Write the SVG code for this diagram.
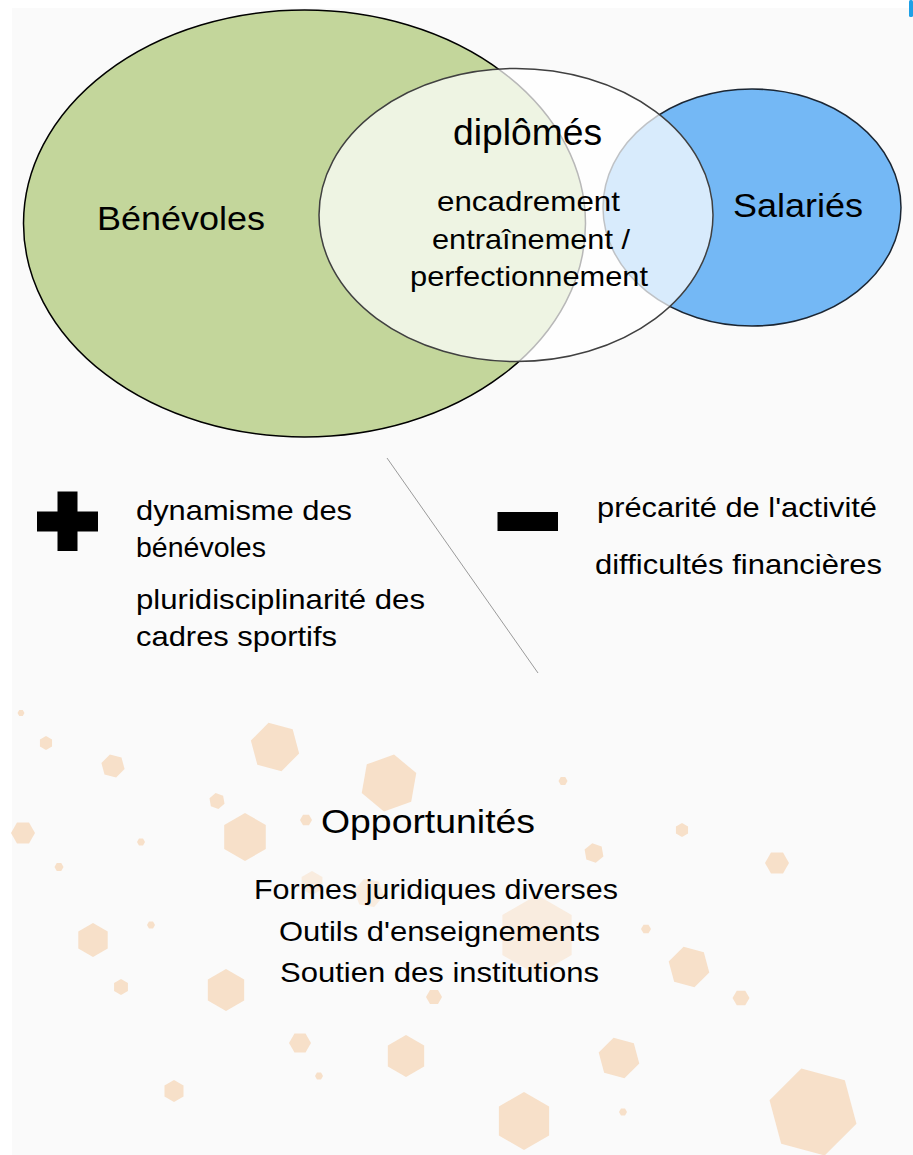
<svg xmlns="http://www.w3.org/2000/svg" xmlns:xlink="http://www.w3.org/1999/xlink" width="913" height="1155" viewBox="0 0 913 1155">
<style>
text{font-family:"Liberation Sans",Arial,sans-serif;fill:#000}
.hx{fill:#f7e0c9}
.hf{fill:#f7e0c9;opacity:.55}
</style>
<defs>
<polygon id="hex" points="1,0 0.5,0.866 -0.5,0.866 -1,0 -0.5,-0.866 0.5,-0.866"/>
</defs>
<rect width="913" height="1155" fill="#ffffff"/>
<rect x="12" y="8" width="901" height="1147" fill="#fafafa"/>
<rect x="909" y="0" width="4" height="17" rx="1.5" fill="#1ea0e6"/>

<g id="hexagons">
<use href="#hex" class="hx" transform="translate(21,713) scale(3.5)"/>
<use href="#hex" class="hx" transform="translate(46,743) scale(7) rotate(90)"/>
<use href="#hex" class="hx" transform="translate(113,766) scale(12) rotate(15)"/>
<use href="#hex" class="hx" transform="translate(275,747) scale(25) rotate(75)"/>
<use href="#hex" class="hx" transform="translate(389,783) scale(29) rotate(100)"/>
<use href="#hex" class="hx" transform="translate(563,781) scale(4.5)"/>
<use href="#hex" class="hx" transform="translate(217,801) scale(8) rotate(20)"/>
<use href="#hex" class="hx" transform="translate(245,837) scale(24) rotate(90)"/>
<use href="#hex" class="hx" transform="translate(23,833) scale(12)"/>
<use href="#hex" class="hx" transform="translate(141,842) scale(4)"/>
<use href="#hex" class="hx" transform="translate(59,867) scale(4.5)"/>
<use href="#hex" class="hx" transform="translate(306,820) scale(6)"/>
<use href="#hex" class="hx" transform="translate(682,830) scale(7) rotate(30)"/>
<use href="#hex" class="hx" transform="translate(594,853) scale(10) rotate(20)"/>
<use href="#hex" class="hx" transform="translate(777,863) scale(12)"/>
<use href="#hex" class="hf" transform="translate(312,883) scale(12) rotate(30)"/>
<use href="#hex" class="hf" transform="translate(369,893) scale(15) rotate(10)"/>
<use href="#hex" class="hf" transform="translate(537,935) scale(40) rotate(90)"/>
<use href="#hex" class="hx" transform="translate(93,940) scale(17) rotate(90)"/>
<use href="#hex" class="hx" transform="translate(151,925) scale(4)"/>
<use href="#hex" class="hx" transform="translate(646,929) scale(5)"/>
<use href="#hex" class="hx" transform="translate(226,990) scale(21) rotate(90)"/>
<use href="#hex" class="hx" transform="translate(121,987) scale(8) rotate(90)"/>
<use href="#hex" class="hx" transform="translate(434,997) scale(8)"/>
<use href="#hex" class="hx" transform="translate(689,967) scale(21) rotate(75)"/>
<use href="#hex" class="hx" transform="translate(741,998) scale(8.5)"/>
<use href="#hex" class="hx" transform="translate(300,1043) scale(11)"/>
<use href="#hex" class="hx" transform="translate(406,1056) scale(21) rotate(90)"/>
<use href="#hex" class="hx" transform="translate(619,1058) scale(21) rotate(15)"/>
<use href="#hex" class="hx" transform="translate(319,1076) scale(4)"/>
<use href="#hex" class="hx" transform="translate(174,1091) scale(11) rotate(90)"/>
<use href="#hex" class="hx" transform="translate(524,1121) scale(29) rotate(90)"/>
<use href="#hex" class="hx" transform="translate(623,1112) scale(4)"/>
<use href="#hex" class="hx" transform="translate(813,1112) scale(45) rotate(75)"/>
</g>

<g id="connectors">
<line x1="387" y1="458" x2="538" y2="673" stroke="#9a9a9a" stroke-width="1"/>
</g>

<g id="benevoles">
<ellipse cx="304.5" cy="223.5" rx="281" ry="213.5" fill="#c3d69b" stroke="#000" stroke-width="1.5"/>
</g>
<g id="salaries">
<ellipse cx="752" cy="207.5" rx="149" ry="118.5" fill="#74b8f5" stroke="#1b2633" stroke-width="1.5"/>
</g>
<g id="diplomes">
<ellipse cx="516" cy="215" rx="197" ry="146.5" fill="#ffffff" fill-opacity="0.72" stroke="#404040" stroke-width="1.5"/>
</g>

<g id="labels-venn">
<text x="97" y="230" font-size="33" textLength="168" lengthAdjust="spacingAndGlyphs">Bénévoles</text>
<text x="733" y="217" font-size="33" textLength="130" lengthAdjust="spacingAndGlyphs">Salariés</text>
<text x="453" y="145" font-size="36" textLength="149" lengthAdjust="spacingAndGlyphs">diplômés</text>
<text x="437" y="211" font-size="28.5" textLength="183" lengthAdjust="spacingAndGlyphs">encadrement</text>
<text x="432" y="249" font-size="28.5" textLength="198" lengthAdjust="spacingAndGlyphs">entraînement /</text>
<text x="410" y="286" font-size="28.5" textLength="238" lengthAdjust="spacingAndGlyphs">perfectionnement</text>
</g>

<g id="plus">
<rect x="37" y="511.5" width="61" height="20"/>
<rect x="57.5" y="491.5" width="20" height="59.5"/>
<text x="136" y="520" font-size="28.5" textLength="216" lengthAdjust="spacingAndGlyphs">dynamisme des</text>
<text x="136" y="557" font-size="28.5">bénévoles</text>
<text x="136" y="609" font-size="28.5" textLength="289" lengthAdjust="spacingAndGlyphs">pluridisciplinarité des</text>
<text x="136" y="646" font-size="28.5" textLength="201" lengthAdjust="spacingAndGlyphs">cadres sportifs</text>
</g>

<g id="minus">
<rect x="497.5" y="512" width="60.5" height="19"/>
<text x="597" y="517" font-size="28.5" textLength="280" lengthAdjust="spacingAndGlyphs">précarité de l'activité</text>
<text x="595" y="574" font-size="28.5" textLength="287" lengthAdjust="spacingAndGlyphs">difficultés financières</text>
</g>

<g id="opportunites">
<text x="321" y="833" font-size="32.5" textLength="214" lengthAdjust="spacingAndGlyphs">Opportunités</text>
<text x="254" y="899" font-size="28.5" textLength="364" lengthAdjust="spacingAndGlyphs">Formes juridiques diverses</text>
<text x="279" y="941" font-size="28.5" textLength="321" lengthAdjust="spacingAndGlyphs">Outils d'enseignements</text>
<text x="280" y="982" font-size="28.5" textLength="319" lengthAdjust="spacingAndGlyphs">Soutien des institutions</text>
</g>
</svg>
